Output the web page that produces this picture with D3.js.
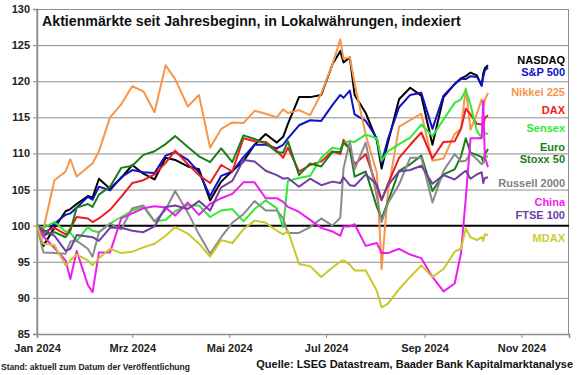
<!doctype html>
<html lang="de">
<head>
    <meta charset="utf-8">
    <title>Aktienmärkte seit Jahresbeginn</title>
    <script src="https://d3js.org/d3.v7.min.js"></script>
    <style>
        body { margin: 0; background: #fff; }
        text { font-family: Arial, "Liberation Sans", sans-serif; }
    </style>
</head>
<body>
<script>
    /* Data: index levels, 100 = start of year */
    const dates = ["2024-01-01","2024-01-05","2024-01-12","2024-01-19","2024-01-22","2024-01-26",
        "2024-02-02","2024-02-05","2024-02-09","2024-02-16","2024-02-23",
        "2024-03-01","2024-03-08","2024-03-15","2024-03-22","2024-03-28",
        "2024-04-05","2024-04-12","2024-04-19","2024-04-26",
        "2024-05-03","2024-05-10","2024-05-17","2024-05-24","2024-05-31",
        "2024-06-04","2024-06-07","2024-06-14","2024-06-21","2024-06-28",
        "2024-07-05","2024-07-10","2024-07-12","2024-07-16","2024-07-19","2024-07-26",
        "2024-08-02","2024-08-05","2024-08-09","2024-08-16","2024-08-23","2024-08-30",
        "2024-09-06","2024-09-13","2024-09-20","2024-09-24","2024-09-27","2024-09-30",
        "2024-10-04","2024-10-07","2024-10-08","2024-10-09","2024-10-11"];

    const nasdaq = [100, 97.2, 99.7, 102, 102.3, 103,
        104.1, 103.9, 106.5, 105.1, 106.6,
        108.4, 107.2, 106.4, 109.4, 109.1,
        108.2, 107.8, 103.5, 106.1,
        107.6, 108.9, 111.2, 112.7, 111.5,
        112.3, 114.1, 117.8, 117.8, 118.1,
        122.3, 124.2, 122.6, 123.3, 118.1, 115.6,
        111.8, 107.9, 111.5, 117.5, 119.1, 118,
        111.2, 117.8, 119.6, 120.4, 120.7, 121.2,
        120.8, 119.4, 121.1, 121.8, 122.2];
    const sp500 = [100, 98.5, 100.3, 101.5, 101.7, 102.5,
        104, 103.6, 105.4, 104.9, 106.7,
        107.7, 107.4, 107.3, 109.7, 110.2,
        109.1, 107.4, 104.1, 106.9,
        107.5, 109.5, 111.2, 111.2, 110.7,
        111.2, 112.1, 113.9, 114.6, 114.5,
        116.7, 118.1, 117.7, 118.7, 115.4, 114.5,
        112.1, 108.7, 112, 116.4, 118.1, 118.4,
        113.4, 118, 119.6, 120.3, 120.3, 120.7,
        120.6, 119.4, 120.6, 121.5, 121.9];
    const nikkei = [100, 99.5, 106.3, 107.5, 109.2, 106.8,
        108.1, 108.6, 110.3, 115, 116.8,
        119.3, 118.6, 115.7, 122.2, 120.3,
        116.5, 118.1, 110.8, 113.4,
        114.3, 114.2, 115.9, 115.5, 115,
        116.1, 115.6, 116, 115.3, 118.3,
        122.3, 125.8, 123.1, 123.3, 119.7, 112.6,
        107.3, 94, 104.7, 113.7, 114.6, 115.5,
        109, 109.3, 112.7, 113.4, 119, 113.3,
        115.5, 117.5, 116.4, 117.4, 118.4];
    const dax = [100, 99.1, 99.7, 98.8, 99.6, 101.2,
        101, 100.5, 101, 102.2, 104,
        105.9, 106.3, 107.1, 108.7, 110.4,
        108.5, 107, 105.9, 108.4,
        107.5, 112.1, 111.7, 111.6, 110.4,
        109.4, 110.8, 107.5, 108.4, 108.9,
        110.3, 109.9, 111.9, 110.5, 108.5, 109.9,
        105.4, 103.5, 105.8, 109.4, 111.2, 112.9,
        109.3, 111.6, 111.7, 113.4, 116.2, 115.4,
        114.1, 114, 113.8, 114.9, 115.3];
    const sensex = [100, 99.7, 100.5, 99.2, 99, 97.9,
        99.8, 99.3, 99.1, 100.3, 101.2,
        102.1, 102.6, 100.6, 100.8, 102,
        102.8, 102.8, 101.2, 102.1,
        102.3, 100.6, 102.3, 103.5, 102.4,
        99.8, 106.2, 106.6, 106.9, 109.4,
        110.8, 110.6, 111.5, 111.7, 111.6, 112.6,
        112.1, 109, 110.3, 111.3, 112.2, 114,
        112.4, 114.7, 117, 117.5, 118.8, 116.7,
        113.1, 112.2, 113, 112.8, 112.7];
    const eurostoxx = [100, 98.7, 99.1, 98.4, 99.3, 102.5,
        103, 102.6, 104.3, 105.4, 108,
        108.3, 109.8, 110.3, 111.3, 112.4,
        110.9, 109.6, 108.8, 110.7,
        108.8, 112.5, 112, 111.4, 110.2,
        110.1, 111.7, 107, 108.6, 108.2,
        110.2, 110.2, 111.5, 110.6, 106.8, 107.5,
        102.6, 101, 103.3, 107.6, 108.5, 109.7,
        104.8, 107.1, 107.8, 109.6, 112.1, 110.1,
        109.8, 109.5, 108.7, 109.9, 110.6];
    const russell = [100, 96.3, 96.2, 96.1, 97.8, 97.9,
        96.8, 95.7, 99.1, 100.3, 99.5,
        102.4, 102.8, 100.6, 102.2, 104.8,
        101.8, 98.8, 96.1, 98.4,
        100.4, 101.6, 103.4, 102.1, 102.1,
        101, 99, 99, 99.8, 101,
        100, 101.1, 107.9, 111.7, 107.8, 111.5,
        104, 100.5, 103.1, 105.7, 109.4, 109.4,
        103.2, 107.6, 109.9, 108.9, 109, 110,
        109.2, 108.5, 108.7, 109.5, 109.6];
    const china = [100, 98.5, 96.9, 95.2, 92.6, 96.5,
        91.8, 90.8, 96.3, 96.3, 101,
        101.7, 102.4, 102.7, 102.5, 101.4,
        103.2, 101.5, 103, 103.8,
        104.4, 106, 106, 103.8, 103.8,
        103.3, 102.6, 101.9, 100.8, 99.7,
        99.2, 98.6, 99.9, 99.9, 100.2, 97.2,
        97.6, 96.2, 96.2, 96.8, 96, 95.5,
        92.9, 90.9, 92, 96.2, 103.8, 112.1,
        112.1, 112.1, 117.3, 109.5, 108.1];
    const ftse = [100, 99.4, 98.6, 96.5, 96.8, 98.7,
        98.5, 98.4, 97.9, 99.7, 99.7,
        99.3, 99.1, 99.9, 102.6, 102.8,
        102.3, 103.4, 102.1, 105.3,
        106.2, 109.1, 108.9, 107.6, 107,
        106.5, 106.6, 105.4, 106.5, 105.6,
        106.1, 105.9, 106.7, 105.6, 105.5, 107.1,
        105.7, 103.6, 105.6, 107.5, 107.7, 108.3,
        105.8, 107, 106.4, 107.1, 107.6, 106.5,
        107.1, 107.4, 105.9, 106.6, 106.7];
    const mdax = [100, 97.5, 97.3, 94.5, 95.2, 96,
        95.2, 94.5, 95.5, 96.8, 96.2,
        96.4, 97, 97.5, 98.6, 99.8,
        98.9, 97.5, 95.7, 98,
        97.6, 99.5, 100.7, 100.4, 99.3,
        98.8, 99.3, 94.7, 94.4, 92.9,
        94.2, 95, 95.2, 94.6, 93.8, 93.8,
        91, 88.7, 89.2, 91.2, 92.9, 94.5,
        92.9, 94, 96.4, 96.8, 99.6, 98.4,
        98, 98.4, 97.9, 98.8, 98.7];

    const seriesNames = ["NASDAQ", "S&P 500", "Nikkei 225", "DAX", "Sensex",
        "Euro Stoxx 50", "Russell 2000", "China", "FTSE 100", "MDAX"];
    const seriesValues = [nasdaq, sp500, nikkei, dax, sensex, eurostoxx, russell, china, ftse, mdax];
    const yTicks = [85, 90, 95, 100, 105, 110, 115, 120, 125, 130];
    const monthNames = ["Jan", "Feb", "Mrz", "Apr", "Mai", "Jun", "Jul", "Aug", "Sep", "Okt", "Nov", "Dez"];

    /* Styling */
    const colors = ["#000000", "#1010c8", "#f7964a", "#ee1c1c", "#33e833",
        "#1a7d1a", "#8a8a8a", "#ee1cee", "#7040a0", "#c8c828"];
    const labelColors = ["#000000", "#1010c8", "#f7964a", "#ee1c1c", "#33e833",
        "#1a7d1a", "#808080", "#ee1cee", "#7040a0", "#cccc33"];
    // label lines and vertical centres of the legend on the right
    const labelLines = [["NASDAQ"], ["S&P 500"], ["Nikkei 225"], ["DAX"], ["Sensex"],
        ["Euro", "Stoxx 50"], ["Russell 2000"], ["China"], ["FTSE 100"], ["MDAX"]];
    const labelY = [60, 72.5, 92, 110, 128, 147.5, 183, 202, 215.5, 238.5];

    const width = 580, height = 375;
    const plotLeft = 37, plotRight = 569, plotTop = 9, plotBottom = 334;

    var svg = d3.select("body")
        .append("svg")
        .attr("width", width)
        .attr("height", height);

    var parse = d3.timeParse("%Y-%m-%d");

    var xscale = d3.scaleTime()
        .domain([new Date(2024, 0, 1), new Date(2024, 11, 1)])
        .range([plotLeft, plotRight]);
    var yscale = d3.scaleLinear()
        .domain([85, 130])
        .range([plotBottom, plotTop]);

    // Horizontal gridlines
    svg.append("g")
        .attr("transform", "translate(" + plotLeft + ",0)")
        .call(d3.axisLeft(yscale)
            .tickValues(yTicks.filter(function (d) { return d > 85 && d < 130 && d != 100; }))
            .tickSize(-(plotRight - plotLeft))
            .tickFormat(""))
        .call(function (g) { g.select(".domain").remove(); })
        .selectAll("line")
        .attr("stroke", "#8c8c8c")
        .attr("stroke-width", 1);

    // Frame round the plot area
    svg.append("rect")
        .attr("x", plotLeft)
        .attr("y", plotTop + 0.5)
        .attr("width", plotRight - plotLeft - 0.5)
        .attr("height", plotBottom - plotTop)
        .attr("fill", "none")
        .attr("stroke", "#8c8c8c")
        .attr("stroke-width", 1);

    // Y axis with labels
    var y_axis = d3.axisLeft(yscale)
        .tickValues(yTicks)
        .tickSize(4)
        .tickPadding(3)
        .tickFormat(d3.format("d"));
    var yg = svg.append("g")
        .attr("transform", "translate(" + plotLeft + ",0)")
        .call(y_axis);
    yg.select(".domain").attr("stroke", "#8c8c8c").attr("stroke-width", 1.5);
    yg.selectAll(".tick line").attr("stroke", "#8c8c8c");
    yg.selectAll("text")
        .attr("font-family", "Arial, 'Liberation Sans', sans-serif")
        .attr("font-size", 11)
        .attr("font-weight", "bold")
        .attr("fill", "#222");

    // X axis
    var x_axis = d3.axisBottom(xscale)
        .ticks(d3.timeMonth.every(2))
        .tickSize(4)
        .tickPadding(6)
        .tickFormat(function (d) { return monthNames[d.getMonth()] + " " + d.getFullYear(); });
    var xg = svg.append("g")
        .attr("transform", "translate(0," + plotBottom + ")")
        .call(x_axis);
    xg.select(".domain").attr("stroke", "#8c8c8c").attr("stroke-width", 1.5);
    xg.selectAll(".tick line").attr("stroke", "#8c8c8c");
    xg.selectAll("text")
        .attr("font-family", "Arial, 'Liberation Sans', sans-serif")
        .attr("font-size", 11)
        .attr("font-weight", "bold")
        .attr("fill", "#222");

    // Base line at 100
    svg.append("line")
        .attr("x1", plotLeft)
        .attr("x2", plotRight)
        .attr("y1", yscale(100))
        .attr("y2", yscale(100))
        .attr("stroke", "#000")
        .attr("stroke-width", 2);

    // Index lines
    var line = d3.line()
        .x(function (d, i) { return xscale(parse(dates[i])); })
        .y(function (d) { return yscale(d); });

    svg.append("g")
        .selectAll("path")
        .data(seriesValues)
        .enter()
        .append("path")
        .attr("d", line)
        .attr("fill", "none")
        .attr("stroke", function (d, i) { return colors[i]; })
        .attr("stroke-width", 2)
        .attr("stroke-linejoin", "round");

    // Legend labels on the right
    var labels = svg.append("g")
        .selectAll("text")
        .data(seriesNames)
        .enter()
        .append("text")
        .attr("x", 565)
        .attr("y", function (d, i) { return labelY[i]; })
        .attr("text-anchor", "end")
        .attr("font-size", 11)
        .attr("font-weight", "bold")
        .attr("fill", function (d, i) { return labelColors[i]; });
    labels.selectAll("tspan")
        .data(function (d, i) { return labelLines[i]; })
        .enter()
        .append("tspan")
        .attr("x", 565)
        .attr("dy", function (d, j) { return j == 0 ? "0.35em" : "12"; })
        .text(function (d) { return d; });

    // Title
    svg.append("text")
        .attr("x", 42)
        .attr("y", 26)
        .attr("font-size", 14.2)
        .attr("font-weight", "bold")
        .attr("fill", "#111")
        .text("Aktienmärkte seit Jahresbeginn, in Lokalwährungen, indexiert");

    // Footer
    svg.append("text")
        .attr("x", 1)
        .attr("y", 370)
        .attr("font-size", 8.5)
        .attr("font-weight", "bold")
        .attr("fill", "#222")
        .text("Stand: aktuell zum Datum der Veröffentlichung");
    svg.append("text")
        .attr("x", 573)
        .attr("y", 368)
        .attr("text-anchor", "end")
        .attr("font-size", 11)
        .attr("font-weight", "bold")
        .attr("fill", "#111")
        .text("Quelle: LSEG Datastream, Baader Bank Kapitalmarktanalyse");
</script>
</body>
</html>
